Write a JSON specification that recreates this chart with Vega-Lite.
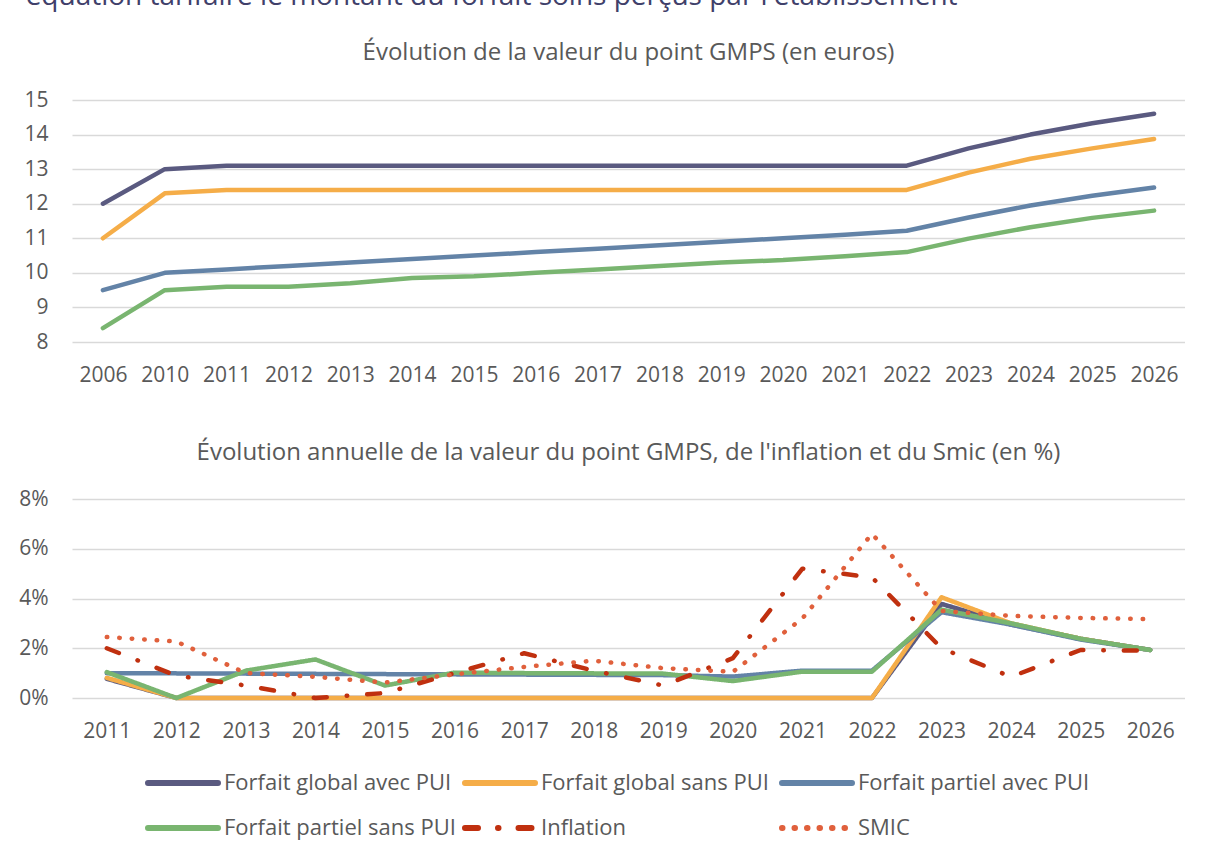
{
  "$schema": "https://vega.github.io/schema/vega-lite/v6.json",
  "background": "white",
  "padding": {"top": -17, "left": 18, "right": 0, "bottom": 0},
  "title": {
    "text": "équation tarifaire le montant du forfait soins perçus par l'établissement",
    "anchor": "start",
    "frame": "bounds",
    "fontSize": 28,
    "font": "Open Sans",
    "fontWeight": "normal",
    "color": "#40406a",
    "dx": 7,
    "offset": 30
  },
  "config": {
    "font": "Open Sans",
    "view": {"stroke": null},
    "axis": {
      "labelFont": "Open Sans",
      "labelFontSize": 21,
      "labelColor": "#595959",
      "ticks": false,
      "domain": false,
      "title": null,
      "gridColor": "#d9d9d9",
      "gridWidth": 1.5
    },
    "axisX": {"grid": false, "labelAngle": 0, "labelPadding": 22},
    "axisY": {"grid": true, "labelPadding": 24}
  },
  "datasets": {
    "niveau": [
      {"serie": "Forfait global avec PUI", "annee": "2006", "valeur": 12.0},
      {"serie": "Forfait global avec PUI", "annee": "2010", "valeur": 13.0},
      {"serie": "Forfait global avec PUI", "annee": "2011", "valeur": 13.1},
      {"serie": "Forfait global avec PUI", "annee": "2012", "valeur": 13.1},
      {"serie": "Forfait global avec PUI", "annee": "2013", "valeur": 13.1},
      {"serie": "Forfait global avec PUI", "annee": "2014", "valeur": 13.1},
      {"serie": "Forfait global avec PUI", "annee": "2015", "valeur": 13.1},
      {"serie": "Forfait global avec PUI", "annee": "2016", "valeur": 13.1},
      {"serie": "Forfait global avec PUI", "annee": "2017", "valeur": 13.1},
      {"serie": "Forfait global avec PUI", "annee": "2018", "valeur": 13.1},
      {"serie": "Forfait global avec PUI", "annee": "2019", "valeur": 13.1},
      {"serie": "Forfait global avec PUI", "annee": "2020", "valeur": 13.1},
      {"serie": "Forfait global avec PUI", "annee": "2021", "valeur": 13.1},
      {"serie": "Forfait global avec PUI", "annee": "2022", "valeur": 13.1},
      {"serie": "Forfait global avec PUI", "annee": "2023", "valeur": 13.6},
      {"serie": "Forfait global avec PUI", "annee": "2024", "valeur": 14.0},
      {"serie": "Forfait global avec PUI", "annee": "2025", "valeur": 14.33},
      {"serie": "Forfait global avec PUI", "annee": "2026", "valeur": 14.6},
      {"serie": "Forfait global sans PUI", "annee": "2006", "valeur": 11.0},
      {"serie": "Forfait global sans PUI", "annee": "2010", "valeur": 12.3},
      {"serie": "Forfait global sans PUI", "annee": "2011", "valeur": 12.4},
      {"serie": "Forfait global sans PUI", "annee": "2012", "valeur": 12.4},
      {"serie": "Forfait global sans PUI", "annee": "2013", "valeur": 12.4},
      {"serie": "Forfait global sans PUI", "annee": "2014", "valeur": 12.4},
      {"serie": "Forfait global sans PUI", "annee": "2015", "valeur": 12.4},
      {"serie": "Forfait global sans PUI", "annee": "2016", "valeur": 12.4},
      {"serie": "Forfait global sans PUI", "annee": "2017", "valeur": 12.4},
      {"serie": "Forfait global sans PUI", "annee": "2018", "valeur": 12.4},
      {"serie": "Forfait global sans PUI", "annee": "2019", "valeur": 12.4},
      {"serie": "Forfait global sans PUI", "annee": "2020", "valeur": 12.4},
      {"serie": "Forfait global sans PUI", "annee": "2021", "valeur": 12.4},
      {"serie": "Forfait global sans PUI", "annee": "2022", "valeur": 12.4},
      {"serie": "Forfait global sans PUI", "annee": "2023", "valeur": 12.9},
      {"serie": "Forfait global sans PUI", "annee": "2024", "valeur": 13.3},
      {"serie": "Forfait global sans PUI", "annee": "2025", "valeur": 13.6},
      {"serie": "Forfait global sans PUI", "annee": "2026", "valeur": 13.87},
      {"serie": "Forfait partiel avec PUI", "annee": "2006", "valeur": 9.5},
      {"serie": "Forfait partiel avec PUI", "annee": "2010", "valeur": 10.0},
      {"serie": "Forfait partiel avec PUI", "annee": "2011", "valeur": 10.1},
      {"serie": "Forfait partiel avec PUI", "annee": "2012", "valeur": 10.2},
      {"serie": "Forfait partiel avec PUI", "annee": "2013", "valeur": 10.3},
      {"serie": "Forfait partiel avec PUI", "annee": "2014", "valeur": 10.4},
      {"serie": "Forfait partiel avec PUI", "annee": "2015", "valeur": 10.5},
      {"serie": "Forfait partiel avec PUI", "annee": "2016", "valeur": 10.6},
      {"serie": "Forfait partiel avec PUI", "annee": "2017", "valeur": 10.7},
      {"serie": "Forfait partiel avec PUI", "annee": "2018", "valeur": 10.8},
      {"serie": "Forfait partiel avec PUI", "annee": "2019", "valeur": 10.9},
      {"serie": "Forfait partiel avec PUI", "annee": "2020", "valeur": 11.0},
      {"serie": "Forfait partiel avec PUI", "annee": "2021", "valeur": 11.1},
      {"serie": "Forfait partiel avec PUI", "annee": "2022", "valeur": 11.22},
      {"serie": "Forfait partiel avec PUI", "annee": "2023", "valeur": 11.6},
      {"serie": "Forfait partiel avec PUI", "annee": "2024", "valeur": 11.95},
      {"serie": "Forfait partiel avec PUI", "annee": "2025", "valeur": 12.23},
      {"serie": "Forfait partiel avec PUI", "annee": "2026", "valeur": 12.47},
      {"serie": "Forfait partiel sans PUI", "annee": "2006", "valeur": 8.4},
      {"serie": "Forfait partiel sans PUI", "annee": "2010", "valeur": 9.5},
      {"serie": "Forfait partiel sans PUI", "annee": "2011", "valeur": 9.6},
      {"serie": "Forfait partiel sans PUI", "annee": "2012", "valeur": 9.6},
      {"serie": "Forfait partiel sans PUI", "annee": "2013", "valeur": 9.7},
      {"serie": "Forfait partiel sans PUI", "annee": "2014", "valeur": 9.85},
      {"serie": "Forfait partiel sans PUI", "annee": "2015", "valeur": 9.9},
      {"serie": "Forfait partiel sans PUI", "annee": "2016", "valeur": 10.0},
      {"serie": "Forfait partiel sans PUI", "annee": "2017", "valeur": 10.1},
      {"serie": "Forfait partiel sans PUI", "annee": "2018", "valeur": 10.2},
      {"serie": "Forfait partiel sans PUI", "annee": "2019", "valeur": 10.3},
      {"serie": "Forfait partiel sans PUI", "annee": "2020", "valeur": 10.37},
      {"serie": "Forfait partiel sans PUI", "annee": "2021", "valeur": 10.48},
      {"serie": "Forfait partiel sans PUI", "annee": "2022", "valeur": 10.6},
      {"serie": "Forfait partiel sans PUI", "annee": "2023", "valeur": 10.99},
      {"serie": "Forfait partiel sans PUI", "annee": "2024", "valeur": 11.32},
      {"serie": "Forfait partiel sans PUI", "annee": "2025", "valeur": 11.59},
      {"serie": "Forfait partiel sans PUI", "annee": "2026", "valeur": 11.8}
    ],
    "evolution": [
      {"serie": "Forfait global avec PUI", "annee": "2011", "valeur": 0.77},
      {"serie": "Forfait global avec PUI", "annee": "2012", "valeur": 0},
      {"serie": "Forfait global avec PUI", "annee": "2013", "valeur": 0},
      {"serie": "Forfait global avec PUI", "annee": "2014", "valeur": 0},
      {"serie": "Forfait global avec PUI", "annee": "2015", "valeur": 0},
      {"serie": "Forfait global avec PUI", "annee": "2016", "valeur": 0},
      {"serie": "Forfait global avec PUI", "annee": "2017", "valeur": 0},
      {"serie": "Forfait global avec PUI", "annee": "2018", "valeur": 0},
      {"serie": "Forfait global avec PUI", "annee": "2019", "valeur": 0},
      {"serie": "Forfait global avec PUI", "annee": "2020", "valeur": 0},
      {"serie": "Forfait global avec PUI", "annee": "2021", "valeur": 0},
      {"serie": "Forfait global avec PUI", "annee": "2022", "valeur": 0},
      {"serie": "Forfait global avec PUI", "annee": "2023", "valeur": 3.78},
      {"serie": "Forfait global avec PUI", "annee": "2024", "valeur": 2.95},
      {"serie": "Forfait global avec PUI", "annee": "2025", "valeur": 2.38},
      {"serie": "Forfait global avec PUI", "annee": "2026", "valeur": 1.93},
      {"serie": "Forfait global sans PUI", "annee": "2011", "valeur": 0.81},
      {"serie": "Forfait global sans PUI", "annee": "2012", "valeur": 0},
      {"serie": "Forfait global sans PUI", "annee": "2013", "valeur": 0},
      {"serie": "Forfait global sans PUI", "annee": "2014", "valeur": 0},
      {"serie": "Forfait global sans PUI", "annee": "2015", "valeur": 0},
      {"serie": "Forfait global sans PUI", "annee": "2016", "valeur": 0},
      {"serie": "Forfait global sans PUI", "annee": "2017", "valeur": 0},
      {"serie": "Forfait global sans PUI", "annee": "2018", "valeur": 0},
      {"serie": "Forfait global sans PUI", "annee": "2019", "valeur": 0},
      {"serie": "Forfait global sans PUI", "annee": "2020", "valeur": 0},
      {"serie": "Forfait global sans PUI", "annee": "2021", "valeur": 0},
      {"serie": "Forfait global sans PUI", "annee": "2022", "valeur": 0},
      {"serie": "Forfait global sans PUI", "annee": "2023", "valeur": 4.05},
      {"serie": "Forfait global sans PUI", "annee": "2024", "valeur": 3.0},
      {"serie": "Forfait global sans PUI", "annee": "2025", "valeur": 2.38},
      {"serie": "Forfait global sans PUI", "annee": "2026", "valeur": 1.93},
      {"serie": "Forfait partiel avec PUI", "annee": "2011", "valeur": 1.0},
      {"serie": "Forfait partiel avec PUI", "annee": "2012", "valeur": 0.99},
      {"serie": "Forfait partiel avec PUI", "annee": "2013", "valeur": 0.98},
      {"serie": "Forfait partiel avec PUI", "annee": "2014", "valeur": 0.97},
      {"serie": "Forfait partiel avec PUI", "annee": "2015", "valeur": 0.96},
      {"serie": "Forfait partiel avec PUI", "annee": "2016", "valeur": 0.95},
      {"serie": "Forfait partiel avec PUI", "annee": "2017", "valeur": 0.94},
      {"serie": "Forfait partiel avec PUI", "annee": "2018", "valeur": 0.93},
      {"serie": "Forfait partiel avec PUI", "annee": "2019", "valeur": 0.92},
      {"serie": "Forfait partiel avec PUI", "annee": "2020", "valeur": 0.86},
      {"serie": "Forfait partiel avec PUI", "annee": "2021", "valeur": 1.1},
      {"serie": "Forfait partiel avec PUI", "annee": "2022", "valeur": 1.1},
      {"serie": "Forfait partiel avec PUI", "annee": "2023", "valeur": 3.45},
      {"serie": "Forfait partiel avec PUI", "annee": "2024", "valeur": 2.95},
      {"serie": "Forfait partiel avec PUI", "annee": "2025", "valeur": 2.35},
      {"serie": "Forfait partiel avec PUI", "annee": "2026", "valeur": 1.93},
      {"serie": "Forfait partiel sans PUI", "annee": "2011", "valeur": 1.04},
      {"serie": "Forfait partiel sans PUI", "annee": "2012", "valeur": 0},
      {"serie": "Forfait partiel sans PUI", "annee": "2013", "valeur": 1.1},
      {"serie": "Forfait partiel sans PUI", "annee": "2014", "valeur": 1.55},
      {"serie": "Forfait partiel sans PUI", "annee": "2015", "valeur": 0.5},
      {"serie": "Forfait partiel sans PUI", "annee": "2016", "valeur": 1.02},
      {"serie": "Forfait partiel sans PUI", "annee": "2017", "valeur": 1.0},
      {"serie": "Forfait partiel sans PUI", "annee": "2018", "valeur": 0.99},
      {"serie": "Forfait partiel sans PUI", "annee": "2019", "valeur": 0.98},
      {"serie": "Forfait partiel sans PUI", "annee": "2020", "valeur": 0.68},
      {"serie": "Forfait partiel sans PUI", "annee": "2021", "valeur": 1.06},
      {"serie": "Forfait partiel sans PUI", "annee": "2022", "valeur": 1.06},
      {"serie": "Forfait partiel sans PUI", "annee": "2023", "valeur": 3.55},
      {"serie": "Forfait partiel sans PUI", "annee": "2024", "valeur": 3.0},
      {"serie": "Forfait partiel sans PUI", "annee": "2025", "valeur": 2.38},
      {"serie": "Forfait partiel sans PUI", "annee": "2026", "valeur": 1.93},
      {"serie": "Inflation", "annee": "2011", "valeur": 2.0},
      {"serie": "Inflation", "annee": "2012", "valeur": 0.9},
      {"serie": "Inflation", "annee": "2013", "valeur": 0.5},
      {"serie": "Inflation", "annee": "2014", "valeur": 0.0},
      {"serie": "Inflation", "annee": "2015", "valeur": 0.2},
      {"serie": "Inflation", "annee": "2016", "valeur": 1.0},
      {"serie": "Inflation", "annee": "2017", "valeur": 1.8},
      {"serie": "Inflation", "annee": "2018", "valeur": 1.1},
      {"serie": "Inflation", "annee": "2019", "valeur": 0.5},
      {"serie": "Inflation", "annee": "2020", "valeur": 1.6},
      {"serie": "Inflation", "annee": "2021", "valeur": 5.2},
      {"serie": "Inflation", "annee": "2022", "valeur": 4.85},
      {"serie": "Inflation", "annee": "2023", "valeur": 2.0},
      {"serie": "Inflation", "annee": "2024", "valeur": 0.85},
      {"serie": "Inflation", "annee": "2025", "valeur": 1.93},
      {"serie": "Inflation", "annee": "2026", "valeur": 1.9},
      {"serie": "SMIC", "annee": "2011", "valeur": 2.45},
      {"serie": "SMIC", "annee": "2012", "valeur": 2.27},
      {"serie": "SMIC", "annee": "2013", "valeur": 1.0},
      {"serie": "SMIC", "annee": "2014", "valeur": 0.85},
      {"serie": "SMIC", "annee": "2015", "valeur": 0.62},
      {"serie": "SMIC", "annee": "2016", "valeur": 0.95},
      {"serie": "SMIC", "annee": "2017", "valeur": 1.25},
      {"serie": "SMIC", "annee": "2018", "valeur": 1.5},
      {"serie": "SMIC", "annee": "2019", "valeur": 1.2},
      {"serie": "SMIC", "annee": "2020", "valeur": 1.05},
      {"serie": "SMIC", "annee": "2021", "valeur": 3.2},
      {"serie": "SMIC", "annee": "2022", "valeur": 6.6},
      {"serie": "SMIC", "annee": "2023", "valeur": 3.5},
      {"serie": "SMIC", "annee": "2024", "valeur": 3.3},
      {"serie": "SMIC", "annee": "2025", "valeur": 3.22},
      {"serie": "SMIC", "annee": "2026", "valeur": 3.17}
    ]
  },
  "spacing": 56,
  "resolve": {
    "scale": {"x": "independent", "y": "independent", "color": "independent", "strokeDash": "independent"},
    "legend": {"color": "independent", "strokeDash": "independent"}
  },
  "vconcat": [
    {
      "width": 1113,
      "height": 242,
      "title": {
        "text": "Évolution de la valeur du point GMPS (en euros)",
        "fontSize": 24,
        "font": "Open Sans",
        "fontWeight": "normal",
        "color": "#595959",
        "offset": 24
      },
      "data": {"name": "niveau"},
      "mark": {"type": "line", "strokeWidth": 4.5, "strokeCap": "round", "strokeJoin": "round"},
      "encoding": {
        "x": {"field": "annee", "type": "ordinal", "sort": null, "scale": {"type": "point", "padding": 0.5}},
        "y": {
          "field": "valeur",
          "type": "quantitative",
          "scale": {"domain": [8, 15], "nice": false, "zero": false},
          "axis": {"values": [8, 9, 10, 11, 12, 13, 14, 15]}
        },
        "color": {
          "field": "serie",
          "type": "nominal",
          "scale": {
            "domain": ["Forfait global avec PUI", "Forfait global sans PUI", "Forfait partiel avec PUI", "Forfait partiel sans PUI"],
            "range": ["#5a5a80", "#f5ad48", "#6383a7", "#79b570"]
          },
          "legend": null
        }
      }
    },
    {
      "width": 1113,
      "height": 199,
      "title": {
        "text": "Évolution annuelle de la valeur du point GMPS, de l'inflation et du Smic (en %)",
        "fontSize": 24,
        "font": "Open Sans",
        "fontWeight": "normal",
        "color": "#595959",
        "offset": 23
      },
      "data": {"name": "evolution"},
      "mark": {"type": "line", "strokeWidth": 4.5, "strokeCap": "round", "strokeJoin": "round"},
      "encoding": {
        "x": {"field": "annee", "type": "ordinal", "sort": null, "scale": {"type": "point", "padding": 0.5}},
        "y": {
          "field": "valeur",
          "type": "quantitative",
          "scale": {"domain": [0, 8], "nice": false},
          "axis": {"values": [0, 2, 4, 6, 8], "labelExpr": "datum.value + '%'"}
        },
        "color": {
          "field": "serie",
          "type": "nominal",
          "scale": {
            "domain": ["Forfait global avec PUI", "Forfait global sans PUI", "Forfait partiel avec PUI", "Forfait partiel sans PUI", "Inflation", "SMIC"],
            "range": ["#5a5a80", "#f5ad48", "#6383a7", "#79b570", "#c0300f", "#e0603c"]
          },
          "legend": {
            "orient": "none",
            "legendX": 73,
            "legendY": 267,
            "direction": "horizontal",
            "columns": 3,
            "title": null,
            "symbolType": "M-1,0H4",
            "symbolSize": 784,
            "symbolStrokeWidth": 6,
            "labelFont": "Open Sans",
            "labelFontSize": 22,
            "labelColor": "#595959",
            "labelOffset": 45,
            "gridAlign": "all",
            "columnPadding": -3,
            "rowPadding": 16,
            "labelLimit": 400,
            "encode": {"symbols": {"update": {"strokeCap": {"value": "round"}}}}
          }
        },
        "strokeDash": {
          "field": "serie",
          "type": "nominal",
          "scale": {
            "domain": ["Forfait global avec PUI", "Forfait global sans PUI", "Forfait partiel avec PUI", "Forfait partiel sans PUI", "Inflation", "SMIC"],
            "range": [[1, 0], [1, 0], [1, 0], [1, 0], [13, 20, 0.5, 20], [0.5, 12]]
          },
          "legend": {
            "orient": "none",
            "legendX": 73,
            "legendY": 267,
            "direction": "horizontal",
            "columns": 3,
            "title": null,
            "symbolType": "M-1,0H4",
            "symbolSize": 784,
            "symbolStrokeWidth": 6,
            "labelFont": "Open Sans",
            "labelFontSize": 22,
            "labelColor": "#595959",
            "labelOffset": 45,
            "gridAlign": "all",
            "columnPadding": -3,
            "rowPadding": 16,
            "labelLimit": 400,
            "encode": {"symbols": {"update": {"strokeCap": {"value": "round"}}}}
          }
        }
      }
    }
  ]
}
